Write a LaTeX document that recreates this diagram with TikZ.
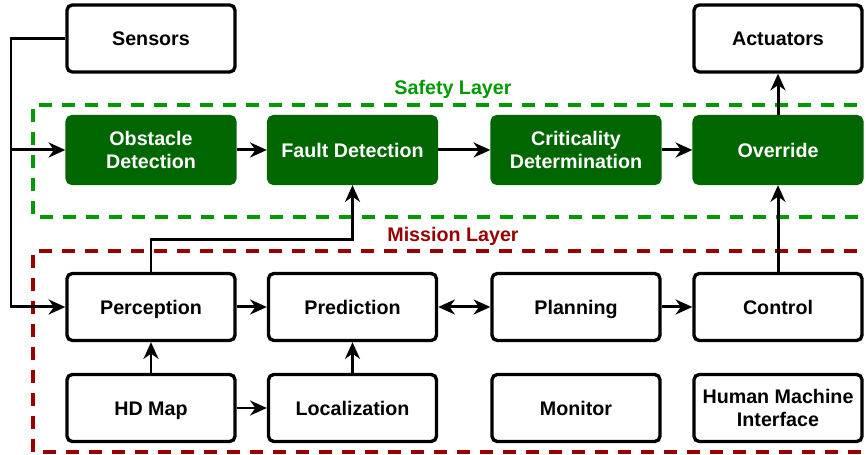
\documentclass[tikz,border=0pt]{standalone}
\usepackage{fontspec}
\setmainfont{Liberation Sans}
\usetikzlibrary{arrows.meta,positioning}
\definecolor{safetygreen}{HTML}{009900}
\definecolor{boxgreen}{HTML}{006600}
\definecolor{missionred}{HTML}{990000}

\begin{document}
\begin{tikzpicture}[>={Stealth[length=9.5pt, width=8.5pt, inset=3pt]}, line width=1.7pt,
  block/.style={draw=black, line width=1.9pt, rounded corners=3pt, fill=white,
    minimum width=3.36cm, minimum height=1.34cm, align=center, inner sep=1pt,
    font=\fontsize{11.2}{13.6}\selectfont\bfseries},
  oneline/.style={text height=8pt, text depth=0pt},
  safebox/.style={block, draw=boxgreen, fill=boxgreen, text=white},
  layer/.style={line width=2pt, dash pattern=on 0.26cm off 0.2cm},
  layerlabel/.style={font=\fontsize{11.2}{13.6}\selectfont\bfseries}]
\useasboundingbox (0,0) rectangle (17.32,9.10);
% --- layers (right side runs off the page) ---
\draw[layer, safetygreen] (17.6,7.00) -- (0.66,7.00) -- (0.66,4.76) -- (17.6,4.76);
\draw[layer, missionred] (17.6,4.08) -- (0.66,4.08) -- (0.66,0.06) -- (17.6,0.06);
\node[layerlabel, text=safetygreen] (safetylab) at (9.06,7.32) {Safety Layer};
\node[layerlabel, text=missionred] (missionlab) at (9.06,4.38) {Mission Layer};
% --- outside ---
\node[block, oneline] (sensors) at (3.02,8.33) {Sensors};
\node[block, oneline] (actuators) at (15.56,8.33) {Actuators};
% --- safety row ---
\node[safebox] (obstacle) at (3.02,6.10) {Obstacle\\Detection};
\node[safebox, oneline] (fault) at (7.05,6.10) {Fault Detection};
\node[safebox] (critic) at (11.52,6.10) {Criticality\\Determination};
\node[safebox, oneline] (override) at (15.56,6.10) {Override};
% --- mission rows ---
\node[block, oneline] (percep) at (3.02,2.96) {Perception};
\node[block, oneline] (predict) at (7.05,2.96) {Prediction};
\node[block, oneline] (plan) at (11.52,2.96) {Planning};
\node[block, oneline] (control) at (15.56,2.96) {Control};
\node[block, oneline] (hdmap) at (3.02,0.94) {HD Map};
\node[block, oneline] (local) at (7.05,0.94) {Localization};
\node[block, oneline] (monitor) at (11.52,0.94) {Monitor};
\node[block] (hmi) at (15.56,0.94) {Human Machine\\Interface};
% --- connectors ---
\coordinate (busTop) at (0.22,8.33);
\coordinate (busBot) at (0.22,2.96);
\coordinate (jog) at (7.05,4.30);
\draw[->] (sensors.west) -- (busTop) -- (busBot) -- (percep.west);
\draw[->] (busTop |- obstacle.west) -- (obstacle.west);
\draw[->] (obstacle) -- (fault);
\draw[->] (fault) -- (critic);
\draw[->] (critic) -- (override);
\draw[->] (override) -- (actuators);
\draw[->] (percep.north) |- (jog) -- (fault.south);
\draw[->] (percep) -- (predict);
\draw[<->] (predict) -- (plan);
\draw[->] (plan) -- (control);
\draw[->] (control) -- (override);
\draw[->] (hdmap) -- (percep);
\draw[->] (hdmap) -- (local);
\draw[->] (local) -- (predict);
\end{tikzpicture}
\end{document}
